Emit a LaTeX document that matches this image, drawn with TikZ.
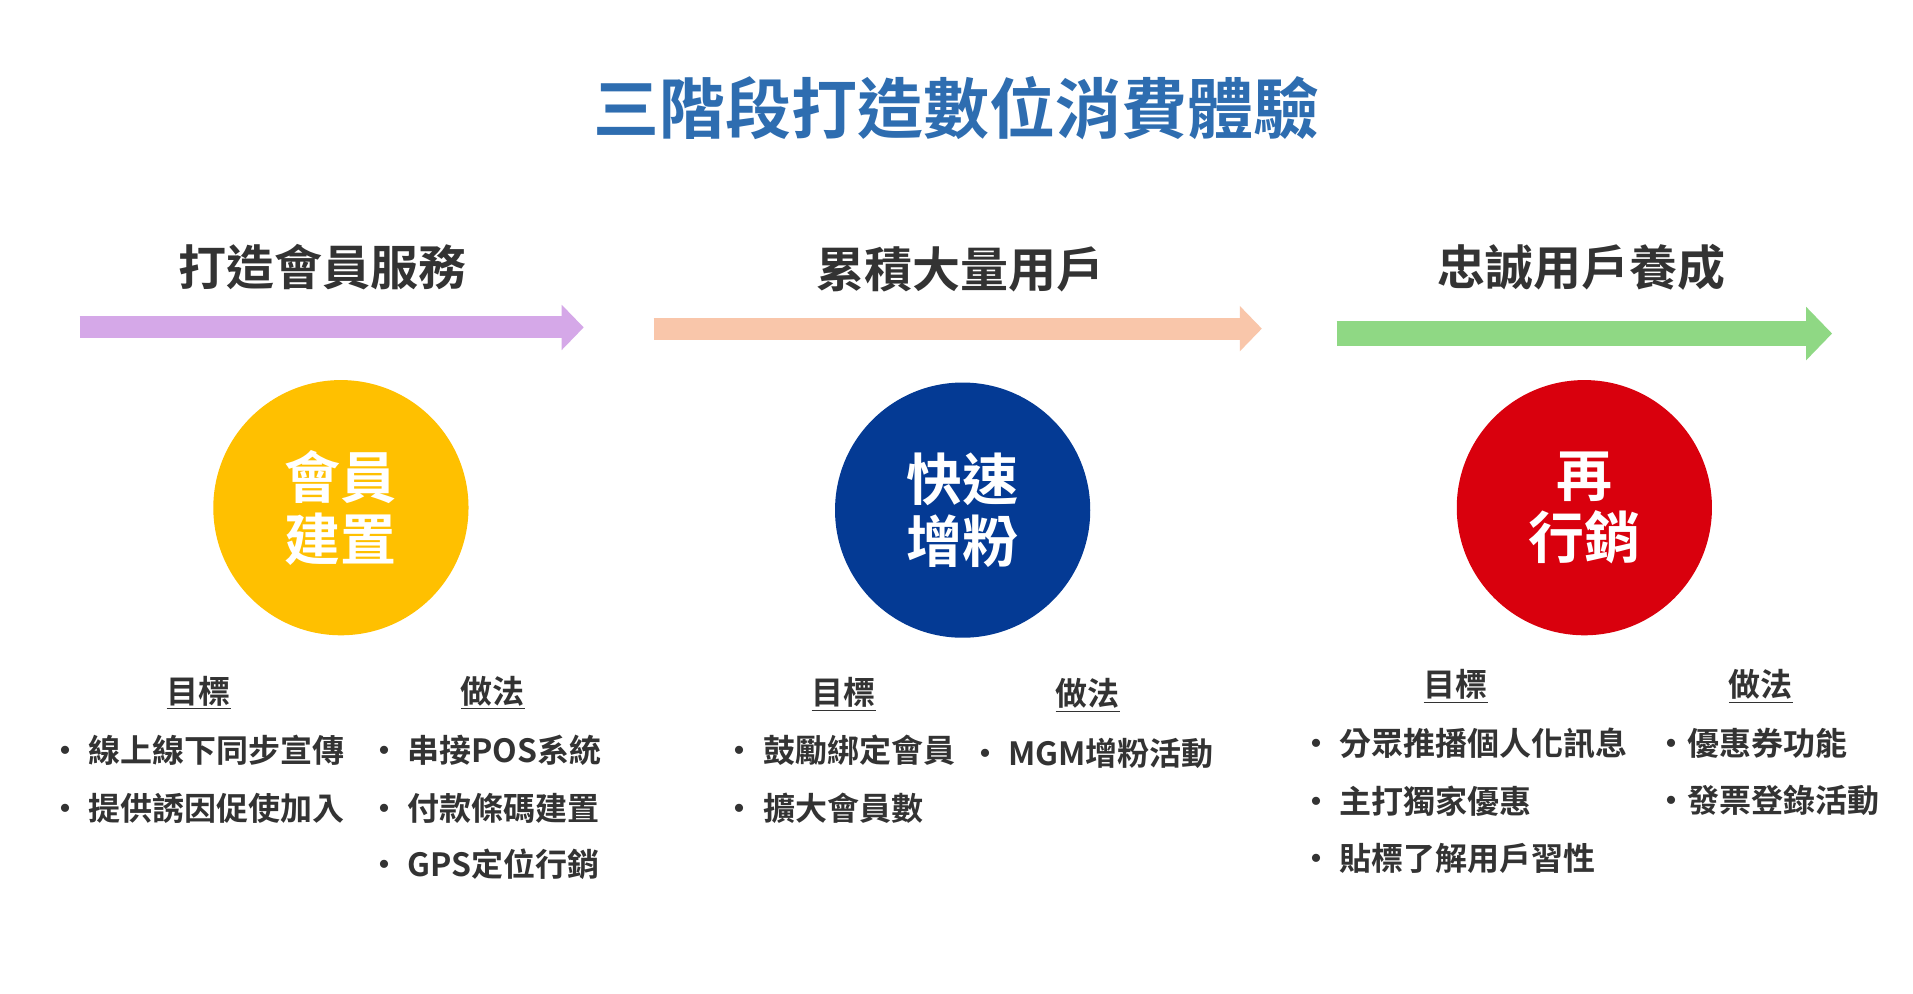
\documentclass[tikz,border=0pt]{standalone}
\usepackage{fontspec}
\setmainfont{Noto Sans CJK TC}[BoldFont={Noto Sans CJK TC Bold}]
\newfontfamily\cjkb{Noto Sans CJK TC Bold}
\usetikzlibrary{arrows.meta}
\definecolor{ttl}{HTML}{2E6DB0}
\definecolor{hd}{HTML}{333333}
\definecolor{cpur}{HTML}{D5A8E8}
\definecolor{cpea}{HTML}{F9C6AA}
\definecolor{cgrn}{HTML}{8FD884}
\definecolor{cyel}{HTML}{FFC000}
\definecolor{cnav}{HTML}{043A94}
\definecolor{cred}{HTML}{D9000D}
\tikzset{
 hdr/.style={text=hd,font=\cjkb\fontsize{24}{28}\selectfont,inner sep=0},
 circ/.style={circle,minimum size=127.6pt,inner sep=0,text=white,align=center,font=\cjkb\fontsize{28}{31}\selectfont},
 sub/.style={text=hd,font=\cjkb\fontsize{16}{18}\selectfont,inner sep=0},
 itm/.style={text=hd,font=\cjkb\fontsize{16}{18}\selectfont,inner sep=0,anchor=west},
 arr/.style={line width=#1,-{Triangle[length=11pt,width=22pt]}},
}
\begin{document}
\begin{tikzpicture}[x=0.6131pt,y=-0.6131pt]
\useasboundingbox[fill=white] (0,0) rectangle (1560,810);
\node[text=ttl,font=\cjkb\fontsize{33}{38}\selectfont,inner sep=0] (title) at (780,88) {三階段打造數位消費體驗};
\node[hdr] (h1) at (263,218) {打造會員服務};
\node[hdr] (h2) at (783,220) {累積大量用戶};
\node[hdr] (h3) at (1290,218) {忠誠用戶養成};
\coordinate (a1s) at (65,267); \coordinate (a1e) at (476,267);
\coordinate (a2s) at (533,268); \coordinate (a2e) at (1029,268);
\coordinate (a3s) at (1090,272); \coordinate (a3e) at (1494,272);
\draw[arr=11pt,cpur] (a1s) -- (a1e);
\draw[arr=11pt,cpea] (a2s) -- (a2e);
\draw[arr=12.5pt,cgrn,-{Triangle[length=13pt,width=26pt]}] (a3s) -- (a3e);
\node[circ,fill=cyel] (c1) at (278,414) {會員\\建置};
\node[circ,fill=cnav] (c2) at (785,416) {快速\\增粉};
\node[circ,fill=cred] (c3) at (1292,414) {再\\行銷};
\node[sub] (g1) at (162,565) {\underline{目標}};
\node[sub] (f1) at (402,565) {\underline{做法}};
\node[itm] (i11) at (40,612) {‧ 線上線下同步宣傳};
\node[itm] (i12) at (40,659) {‧ 提供誘因促使加入};
\node[itm] (j11) at (300,612) {‧ 串接POS系統};
\node[itm] (j12) at (300,659) {‧ 付款條碼建置};
\node[itm] (j13) at (300,705) {‧ GPS定位行銷};
\node[sub] (g2) at (688,566) {\underline{目標}};
\node[sub] (f2) at (887,567) {\underline{做法}};
\node[itm] (i21) at (590,612) {‧ 鼓勵綁定會員};
\node[itm] (i22) at (590,659) {‧ 擴大會員數};
\node[itm] (j21) at (790,614) {‧ MGM增粉活動};
\node[sub] (g3) at (1187,560) {\underline{目標}};
\node[sub] (f3) at (1436,560) {\underline{做法}};
\node[itm] (i31) at (1060,606) {‧ 分眾推播個人化訊息};
\node[itm] (i32) at (1060,653) {‧ 主打獨家優惠};
\node[itm] (i33) at (1060,700) {‧ 貼標了解用戶習性};
\node[itm] (j31) at (1350,606) {‧優惠券功能};
\node[itm] (j32) at (1350,653) {‧發票登錄活動};
\end{tikzpicture}
\end{document}
